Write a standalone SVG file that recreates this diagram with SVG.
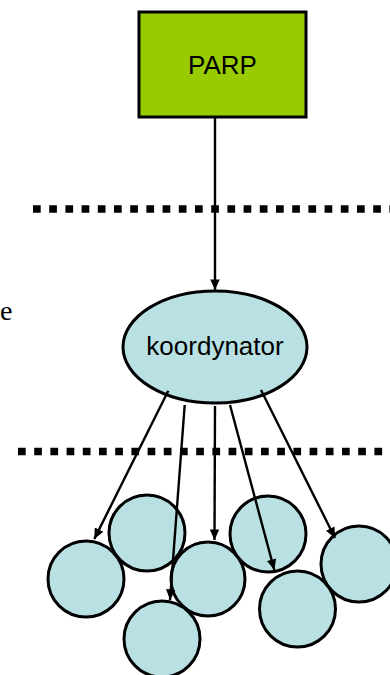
<svg xmlns="http://www.w3.org/2000/svg" width="390" height="675" viewBox="0 0 390 675">
<style>
.lbl{font-family:"Liberation Sans",Arial,sans-serif;font-size:26px;fill:#000;text-anchor:middle}
.dots{stroke:#000;stroke-width:7.5;stroke-dasharray:7.7 8.5;fill:none}
.conn{stroke:#000;stroke-width:2.4;fill:none}
.node{fill:#b9e0e3;stroke:#000;stroke-width:3}
</style>
<defs>
<marker id="ah" viewBox="0 0 10 9" refX="10" refY="4.5" markerWidth="11" markerHeight="9.5" markerUnits="userSpaceOnUse" orient="auto">
<path d="M0,0 L10,4.5 L0,9 z" fill="#000"/>
</marker>
</defs>
<rect width="390" height="675" fill="#fff"/>
<text x="0" y="320" font-family="Liberation Serif,serif" font-size="28" fill="#000">e</text>
<g id="separators">
<line class="dots" x1="33" y1="209" x2="390" y2="209"/>
<line class="dots" x1="18" y1="451.5" x2="390" y2="451.5"/>
</g>
<g id="workers">
<circle class="node" cx="86" cy="579" r="38"/>
<circle class="node" cx="147" cy="533" r="38"/>
<circle class="node" cx="162" cy="639" r="38"/>
<circle class="node" cx="208" cy="579" r="37"/>
<circle class="node" cx="268" cy="534" r="38"/>
<circle class="node" cx="297.5" cy="609" r="38"/>
<circle class="node" cx="359" cy="564" r="38"/>
</g>
<g id="parp">
<rect x="139" y="12" width="167" height="105" fill="#99cc00" stroke="#000" stroke-width="3"/>
<text class="lbl" x="222.5" y="74">PARP</text>
</g>
<g id="koordynator">
<ellipse class="node" cx="215" cy="347" rx="92" ry="56"/>
<text class="lbl" x="215" y="355">koordynator</text>
</g>
<g id="connectors">
<line class="conn" x1="215" y1="117" x2="215" y2="290" marker-end="url(#ah)"/>
<line class="conn" x1="168.3" y1="390.7" x2="94.3" y2="539" marker-end="url(#ah)"/>
<line class="conn" x1="184.7" y1="405" x2="170" y2="600" marker-end="url(#ah)"/>
<line class="conn" x1="215" y1="406" x2="214.5" y2="540" marker-end="url(#ah)"/>
<line class="conn" x1="230" y1="405" x2="274.3" y2="570" marker-end="url(#ah)"/>
<line class="conn" x1="261" y1="390" x2="335" y2="538" marker-end="url(#ah)"/>
</g>
</svg>
